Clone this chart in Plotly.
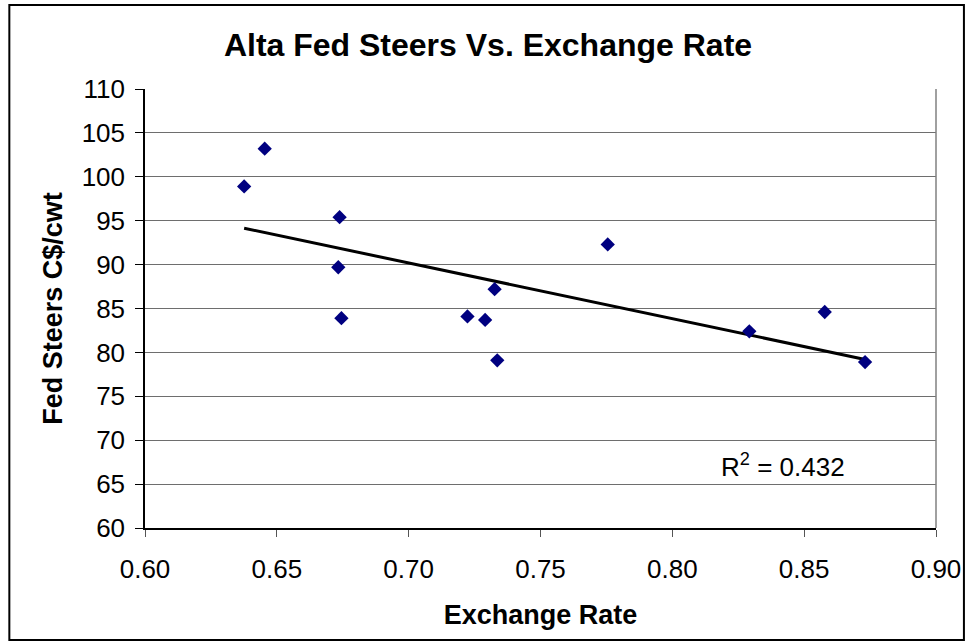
import numpy as np
import plotly.graph_objects as go

exchange_rate = [0.6376, 0.6454, 0.6738, 0.6733, 0.6745, 0.7223, 0.7290, 0.7326,
                 0.7336, 0.7755, 0.8292, 0.8578, 0.8731]
fed_steers = [98.9, 103.2, 95.4, 89.7, 83.9, 84.1, 83.7, 87.2,
              79.1, 92.3, 82.4, 84.6, 78.9]

x_ticks = [0.60, 0.65, 0.70, 0.75, 0.80, 0.85, 0.90]
y_ticks = [60, 65, 70, 75, 80, 85, 90, 95, 100, 105, 110]
r2_label = "R<sup>2</sup> = 0.432"

xa = np.array(exchange_rate)
ya = np.array(fed_steers)
slope, intercept = np.polyfit(xa, ya, 1)
xt = np.array([xa.min(), xa.max()])
yt = slope * xt + intercept

FONT = "Liberation Sans, Arial, sans-serif"

fig = go.Figure()
fig.add_trace(go.Scatter(x=xt, y=yt, mode="lines",
                         line=dict(color="black", width=3),
                         hoverinfo="skip", showlegend=False))
fig.add_trace(go.Scatter(x=exchange_rate, y=fed_steers, mode="markers",
                         marker=dict(symbol="diamond", size=11, color="#000080",
                                     line=dict(width=0)),
                         showlegend=False))

fig.update_layout(
    width=973, height=644,
    margin=dict(l=145, r=35, t=89, b=116),
    paper_bgcolor="white", plot_bgcolor="white",
    font=dict(family=FONT, color="black", size=26),
    title=dict(text="<b>Alta Fed Steers Vs. Exchange Rate</b>",
               x=488 / 973, xanchor="center", xref="container",
               y=1 - 45 / 644, yanchor="middle",
               font=dict(size=32, family=FONT, color="black")),
    xaxis=dict(range=[0.60, 0.90], tickvals=x_ticks,
               ticktext=[f"{v:.2f}" for v in x_ticks],
               showgrid=False, zeroline=False,
               showline=True, linecolor="black", linewidth=1.5,
               ticks="outside", ticklen=7, tickcolor="#555555", tickwidth=1,
               ticklabelstandoff=10,
               tickfont=dict(size=26, family=FONT),
               title=dict(text="<b>Exchange Rate</b>", standoff=22,
                          font=dict(size=27, family=FONT))),
    yaxis=dict(range=[60, 110], tickvals=y_ticks,
               showgrid=True, gridcolor="#6e6e6e", gridwidth=1,
               zeroline=False,
               showline=True, linecolor="black", linewidth=1.5,
               ticks="outside", ticklen=8, tickcolor="black", tickwidth=1,
               ticklabelstandoff=5,
               tickfont=dict(size=26, family=FONT),
               title=dict(text="<b>Fed Steers C$/cwt</b>", standoff=11,
                          font=dict(size=27, family=FONT))),
    shapes=[
        dict(type="line", xref="paper", yref="paper", x0=1, x1=1, y0=0, y1=1,
             line=dict(color="#808080", width=1.5)),
        dict(type="rect", xref="paper", yref="paper",
             x0=-136 / 793, x1=(966 - 145) / 793,
             y0=-(640 - 528) / 439, y1=(528 - 5) / 439,
             line=dict(color="black", width=2)),
    ],
    annotations=[
        dict(x=0.842, y=67.1, xref="x", yref="y", text=r2_label,
             showarrow=False, font=dict(size=26, family=FONT, color="black"))
    ],
)

print("R2 =", np.corrcoef(xa, ya)[0, 1] ** 2)
fig.write_html("out.html", config={"displayModeBar": False},
               post_script="document.body.style.margin='0px';document.body.style.overflow='hidden';")
